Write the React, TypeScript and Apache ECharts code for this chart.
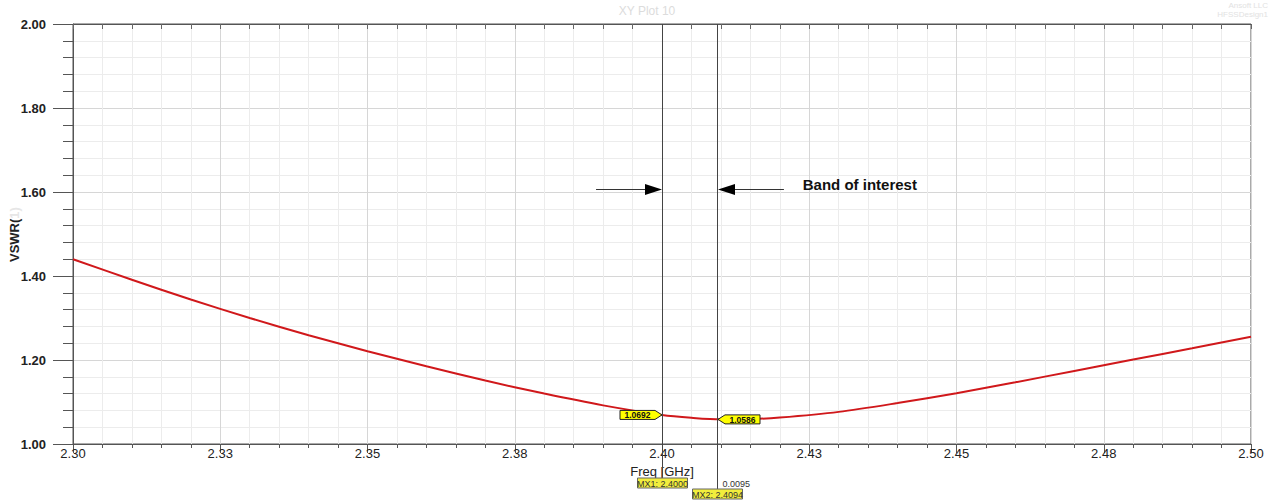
import React, { useEffect, useRef } from "react";
import * as echarts from "echarts";

const freqGHz = [2.30, 2.31, 2.32, 2.33, 2.34, 2.35, 2.36, 2.37, 2.38, 2.39, 2.40, 2.405, 2.41, 2.415, 2.42, 2.43, 2.44, 2.45, 2.46, 2.47, 2.48, 2.49, 2.50];
const vswr = [1.440, 1.391, 1.344, 1.300, 1.259, 1.221, 1.185, 1.151, 1.120, 1.092, 1.0692, 1.0625, 1.0587, 1.0592, 1.0630, 1.0765, 1.0975, 1.121, 1.147, 1.174, 1.201, 1.228, 1.2555];
const xTickLabels = ["2.30", "2.33", "2.35", "2.38", "2.40", "2.43", "2.45", "2.48", "2.50"];
const markerNames = ["MX1", "MX2"];
const markerFreq = [2.4, 2.4094];
const markerVswr = [1.0692, 1.0586];
const markerDelta = "0.0095";
const bandArrowFrom = [2.3888, 2.4207];
const bandLevel = 1.607;
const bandTextPos = [2.4239, 1.619];
const bandText = "Band of interest";

const FONT = "'Liberation Sans', Arial, sans-serif";

export default function App() {
  const ref = useRef<HTMLDivElement>(null);
  useEffect(() => {
    if (!ref.current) return;
    const chart = echarts.init(ref.current, null, { renderer: "svg" });
    const option: any = {
      animation: false,
      backgroundColor: "#ffffff",
      textStyle: { fontFamily: FONT },
      grid: {
        left: 73,
        right: 24,
        top: 24,
        bottom: 60,
        show: true,
        borderColor: "#555",
        borderWidth: 1,
        backgroundColor: "#fff",
      },
      xAxis: [
        {
          type: "value",
          min: 2.3,
          max: 2.5,
          interval: 0.025,
          name: "Freq [GHz]",
          nameLocation: "middle",
          nameGap: 26,
          nameTextStyle: { fontSize: 13, color: "#222", fontFamily: FONT, verticalAlign: "middle" },
          axisLine: { show: true, onZero: false, lineStyle: { color: "#555", width: 1 } },
          axisTick: { show: true, length: 9, lineStyle: { color: "#555" } },
          minorTick: { show: true, splitNumber: 5, length: 4, lineStyle: { color: "#555" } },
          splitLine: { show: true, lineStyle: { color: "#d6d6d6", width: 1 } },
          minorSplitLine: { show: true, lineStyle: { color: "#ececec", width: 1 } },
          axisLabel: {
            margin: 3,
            fontSize: 13,
            color: "#222",
            fontFamily: FONT,
            formatter: (v: number) => xTickLabels[Math.round((v - 2.3) / 0.025)] ?? "",
          },
        },
        {
          type: "value",
          position: "top",
          min: 2.3,
          max: 2.5,
          interval: 0.025,
          axisLine: { show: true, onZero: false, lineStyle: { color: "#555" } },
          axisTick: { show: true, inside: true, length: 5, lineStyle: { color: "#666" } },
          minorTick: { show: true, splitNumber: 5, length: 5, lineStyle: { color: "#666" } },
          splitLine: { show: false },
          axisLabel: { show: false },
        },
      ],
      yAxis: {
        type: "value",
        min: 1,
        max: 2,
        interval: 0.2,
        axisLine: { show: true, onZero: false, lineStyle: { color: "#555", width: 1 } },
        axisTick: { show: true, length: 20, lineStyle: { color: "#555" } },
        minorTick: { show: true, splitNumber: 5, length: 10, lineStyle: { color: "#555" } },
        splitLine: { show: true, lineStyle: { color: "#d6d6d6", width: 1 } },
        minorSplitLine: { show: true, lineStyle: { color: "#ececec", width: 1 } },
        axisLabel: {
          margin: 27,
          fontSize: 13,
          fontWeight: "bold",
          color: "#222",
          fontFamily: FONT,
          formatter: (v: number) => v.toFixed(2),
        },
      },
      graphic: [
        {
          type: "text",
          x: 647,
          y: 11,
          style: { text: "XY Plot 10", fill: "#dcdcdc", align: "center", verticalAlign: "middle", font: `12px ${FONT}` },
        },
        {
          type: "text",
          x: 1268,
          y: 5,
          style: { text: "Ansoft LLC", fill: "#e2e2e2", align: "right", verticalAlign: "middle", font: `8px ${FONT}` },
        },
        {
          type: "text",
          x: 1268,
          y: 14,
          style: { text: "HFSSDesign1", fill: "#e2e2e2", align: "right", verticalAlign: "middle", font: `8px ${FONT}` },
        },
        {
          type: "text",
          x: 14,
          y: 262,
          rotation: Math.PI / 2,
          style: {
            text: "{a|VSWR(}{b|1)}",
            align: "left",
            verticalAlign: "middle",
            rich: {
              a: { fontSize: 13, fontWeight: "bold", fill: "#222", fontFamily: FONT },
              b: { fontSize: 13, fontWeight: "bold", fill: "#e6e6e6", fontFamily: FONT },
            },
          },
        },
      ],
      series: [
        {
          type: "line",
          data: freqGHz.map((f, i) => [f, vswr[i]]),
          smooth: 0.3,
          showSymbol: false,
          lineStyle: { color: "#d0181b", width: 2 },
          itemStyle: { color: "#d0181b" },
          z: 3,
        },
        {
          type: "custom",
          clip: false,
          z: 10,
          data: markerFreq.map((f, i) => [f, markerVswr[i]]),
          renderItem: (params: any, api: any) => {
            const i = params.dataIndex;
            const f = api.value(0);
            const v = api.value(1);
            const p = api.coord([f, v]);
            const px = Math.round(p[0]) + 0.5;
            const py = p[1];
            const top = api.coord([f, 2])[1];
            const bottom = api.coord([f, 1])[1];
            const drop = i === 0 ? 34 : 45;
            const children: any[] = [
              {
                type: "line",
                shape: { x1: px, y1: top, x2: px, y2: bottom + drop },
                style: { stroke: "#444", lineWidth: 1 },
              },
              {
                type: "rect",
                shape: { x: px - 25, y: bottom + drop, width: 50, height: 10 },
                style: { fill: "#f2ee3c", stroke: "#666", lineWidth: 1 },
              },
              {
                type: "text",
                x: px,
                y: bottom + drop + 5.5,
                style: {
                  text: `${markerNames[i]}: ${f.toFixed(4)}`,
                  align: "center",
                  verticalAlign: "middle",
                  fill: "#333",
                  font: `9px ${FONT}`,
                },
              },
            ];
            const dir = i === 0 ? -1 : 1;
            const tip = px + dir * 0.5;
            const pts = [
              [tip, py],
              [tip + dir * 7, py - 4.5],
              [tip + dir * 42, py - 4.5],
              [tip + dir * 42, py + 4.5],
              [tip + dir * 7, py + 4.5],
            ];
            children.push({
              type: "polygon",
              shape: { points: pts },
              style: { fill: "#ffff00", stroke: "#222", lineWidth: 1 },
            });
            children.push({
              type: "text",
              x: tip + dir * 24.5,
              y: py + 0.5,
              style: {
                text: v.toFixed(4),
                align: "center",
                verticalAlign: "middle",
                fill: "#111",
                font: `bold 8.5px ${FONT}`,
              },
            });
            if (i === 1) {
              children.push({
                type: "text",
                x: px + 5,
                y: bottom + 39.5,
                style: {
                  text: markerDelta,
                  align: "left",
                  verticalAlign: "middle",
                  fill: "#333",
                  font: `9px ${FONT}`,
                },
              });
            }
            return { type: "group", children };
          },
        },
        {
          type: "custom",
          clip: false,
          z: 11,
          data: [[bandArrowFrom[0], bandLevel]],
          renderItem: (params: any, api: any) => {
            const l0 = api.coord([bandArrowFrom[0], bandLevel]);
            const l1 = api.coord([markerFreq[0], bandLevel]);
            const r0 = api.coord([bandArrowFrom[1], bandLevel]);
            const r1 = api.coord([markerFreq[1], bandLevel]);
            const y = Math.round(l0[1]) + 0.5;
            const lt = Math.round(l1[0]);
            const rt = Math.round(r1[0]) + 1;
            const tp = api.coord(bandTextPos);
            return {
              type: "group",
              children: [
                { type: "line", shape: { x1: l0[0], y1: y, x2: lt - 15, y2: y }, style: { stroke: "#333", lineWidth: 1 } },
                {
                  type: "polygon",
                  shape: { points: [[lt, y], [lt - 17, y - 5.5], [lt - 17, y + 5.5]] },
                  style: { fill: "#000" },
                },
                { type: "line", shape: { x1: rt + 15, y1: y, x2: r0[0], y2: y }, style: { stroke: "#333", lineWidth: 1 } },
                {
                  type: "polygon",
                  shape: { points: [[rt, y], [rt + 17, y - 5.5], [rt + 17, y + 5.5]] },
                  style: { fill: "#000" },
                },
                {
                  type: "text",
                  x: tp[0],
                  y: tp[1],
                  style: {
                    text: bandText,
                    align: "left",
                    verticalAlign: "middle",
                    fill: "#111",
                    font: `bold 15px ${FONT}`,
                  },
                },
              ],
            };
          },
        },
      ],
    };
    chart.setOption(option);
    return () => chart.dispose();
  }, []);
  return <div ref={ref} style={{ position: "fixed", left: 0, top: 0, width: 1275, height: 504 }} />;
}
